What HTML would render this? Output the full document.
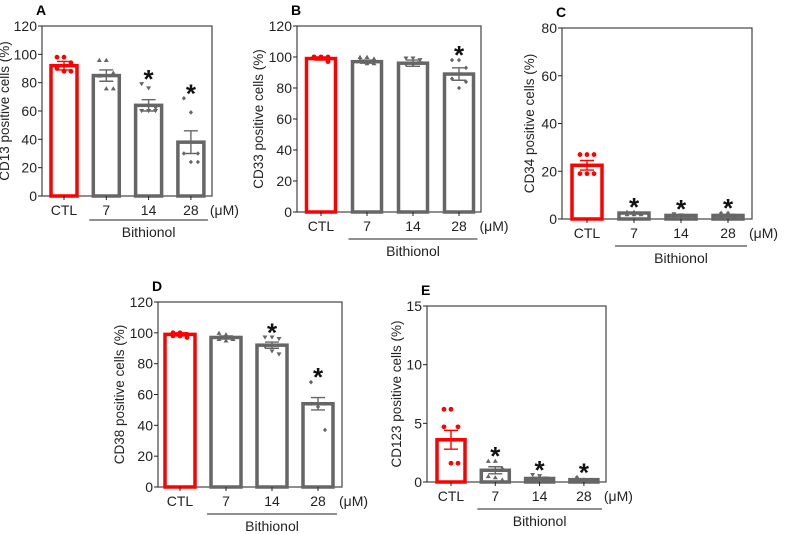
<!DOCTYPE html>
<html><head><meta charset="utf-8"><style>
body{margin:0;background:#fff}
svg{display:block;font-family:"Liberation Sans",Arial,sans-serif}
</style></head><body>
<svg id="fig" width="786" height="534" viewBox="0 0 786 534"></svg>
<script>
const categories = ["CTL","7","14","28"];
const meansA = [92,85,64,38], errA = [3,4,4,8];
const ptsA = [[98,98,94,90,88,88],[96,96,87,85,76,76],[79,76,62,60,60,60],[69,59,30,30,24,24]];
const starsA = [false,false,true,true];
const ticksA = [0,20,40,60,80,100,120];
const meansB = [99,97,96,89], errB = [1,1,2,4];
const ptsB = [[100,100,100,100,100,97],[100,100,99,98,96,96],[99,99,98,95,95,96],[98,98,93,86,80,84]];
const starsB = [false,false,false,true];
const ticksB = [0,20,40,60,80,100,120];
const meansC = [22.5,2.5,1.5,1.5], errC = [2,0.3,0.3,0.4];
const ptsC = [[27,27,27,19,19,19],[3,3,2.5,2,2,2],[2,1.5,1,1,1,1],[2.5,2.5,1,1,0.5,1]];
const starsC = [false,true,true,true];
const ticksC = [0,20,40,60,80];
const meansD = [99,97,92,54], errD = [1,1,2,4];
const ptsD = [[100,100,99,98,98,97],[100,99,96,96,95,96],[97,97,96,91,88,86],[68,54,54,54,52,37]];
const starsD = [false,false,true,true];
const ticksD = [0,20,40,60,80,100,120];
const meansE = [3.6,1.0,0.3,0.2], errE = [0.8,0.3,0.1,0.05];
const ptsE = [[6.2,6.2,4.7,4.7,1.6,1.6],[1.8,1.8,1.2,0.5,0.4,0.2],[0.6,0.5,0.3,0.2,0.1,0.2],[0.4,0.2,0.1,0.1,0.0,0.1]];
const starsE = [false,true,true,true];
const ticksE = [0,5,10,15];

const NS="http://www.w3.org/2000/svg";
const svg=document.getElementById('fig');
function mk(tag,attrs,parent,txt){const e=document.createElementNS(NS,tag);for(const k in attrs)e.setAttribute(k,attrs[k]);if(txt!==undefined)e.textContent=txt;(parent||svg).appendChild(e);return e;}

function panel(p){
  const g=mk('g',{});
  
  
  const ymax=p.ticks[p.ticks.length-1];
  const y=v=>p.y1-(v/ymax)*(p.y1-p.y0);
  const x=i=>p.xs0+i*p.step;
  const lt=mk('text',{x:p.x0-6,y:p.y0-11,'font-size':14,'font-weight':'bold'},g,p.letter);
  
  const frame=mk('rect',{x:p.x0,y:p.y0,width:p.x1-p.x0,height:p.y1-p.y0,fill:'none',stroke:'#444','stroke-width':1.2},g);
  
  p.ticks.forEach(t=>{
    mk('line',{x1:p.x0-4,x2:p.x0,y1:y(t),y2:y(t),stroke:'#222'},g);
    const tl=mk('text',{x:p.x0-5,y:y(t)+5,'font-size':14,'text-anchor':'end',fill:'#222'},g,t);
    
  });
  const cy=(p.y0+p.y1)/2, tx=p.x0-p.titleOff;
  const yt=mk('text',{x:tx,y:cy,'font-size':13.5,'text-anchor':'middle',transform:`rotate(-90 ${tx} ${cy})`,fill:'#222'},g,p.title);
  
  categories.forEach((c,i)=>{
    const col=i===0?'#ff0000':'#666';
    const cx=x(i), bw=p.bw;
    const bar=mk('rect',{x:cx-bw/2,y:y(p.means[i]),width:bw,height:p.y1-y(p.means[i]),fill:'#fff',stroke:col,'stroke-width':3.5},g);
    
    p.pts[i].forEach((v,j)=>{
      const px=cx+(j%3-1)*7, py=y(v);
      let m;
      if(i===0) m=mk('circle',{cx:px,cy:py,r:2.4,fill:col},g);
      else if(i===1) m=mk('path',{d:`M${px-2.5},${py+2} L${px+2.5},${py+2} L${px},${py-2.2}Z`,fill:col},g);
      else if(i===2) m=mk('path',{d:`M${px-2.5},${py-2} L${px+2.5},${py-2} L${px},${py+2.2}Z`,fill:col},g);
      else m=mk('path',{d:`M${px},${py-2.3} L${px+2.1},${py} L${px},${py+2.3} L${px-2.1},${py}Z`,fill:col},g);
      
    });
    const e1=y(p.means[i]+p.err[i]), e2=y(Math.max(0,p.means[i]-p.err[i]));
    const eb=mk('path',{d:`M${cx},${e1}V${e2}M${cx-7},${e1}H${cx+7}M${cx-7},${e2}H${cx+7}`,stroke:col,'stroke-width':1.4,fill:'none'},g);
    
    mk('line',{x1:cx,x2:cx,y1:p.y1,y2:p.y1+4,stroke:'#222'},g);
    const xl=mk('text',{x:cx,y:p.y1+19,'font-size':14,'text-anchor':'middle',fill:'#222'},g,c);
    
    if(p.stars[i]){
      const top=Math.max(...p.pts[i],p.means[i]+p.err[i]);
      const st=mk('text',{x:cx,y:y(top)+4,'font-size':26,'font-weight':'bold','text-anchor':'middle',fill:'#111'},g,'*');
      
    }
  });
  const um=mk('text',{x:x(3)+p.bw/2+6,y:p.y1+19,'font-size':14,fill:'#222'},g,'(μM)');
  
  const ly=p.y1+p.lineOff;
  const bl=mk('line',{x1:x(1)-p.bw/2-4,x2:x(3)+p.bw/2+4,y1:ly,y2:ly,stroke:'#222'},g);
  
  const bt=mk('text',{x:(x(1)+x(3))/2,y:ly+17,'font-size':14,'text-anchor':'middle',fill:'#222'},g,'Bithionol');
  
}
panel({letter:'A',title:'CD13 positive cells (%)',x0:42,x1:212,y0:26,y1:196,xs0:64,step:42.3,bw:26,ticks:ticksA,means:meansA,err:errA,pts:ptsA,stars:starsA,titleOff:33,lineOff:24});
panel({letter:'B',title:'CD33 positive cells (%)',x0:297,x1:481,y0:26,y1:212,xs0:321,step:46,bw:29,ticks:ticksB,means:meansB,err:errB,pts:ptsB,stars:starsB,titleOff:34,lineOff:27});
panel({letter:'C',title:'CD34 positive cells (%)',x0:562,x1:752,y0:28,y1:219,xs0:587,step:47,bw:30,ticks:ticksC,means:meansC,err:errC,pts:ptsC,stars:starsC,titleOff:28,lineOff:27});
panel({letter:'D',title:'CD38 positive cells (%)',x0:158,x1:342,y0:302,y1:487,xs0:180,step:46,bw:30,ticks:ticksD,means:meansD,err:errD,pts:ptsD,stars:starsD,titleOff:34,lineOff:27});
panel({letter:'E',title:'CD123 positive cells (%)',x0:427,x1:606,y0:306,y1:482,xs0:451,step:44.3,bw:28,ticks:ticksE,means:meansE,err:errE,pts:ptsE,stars:starsE,titleOff:26,lineOff:27});
</script>
</body></html>
